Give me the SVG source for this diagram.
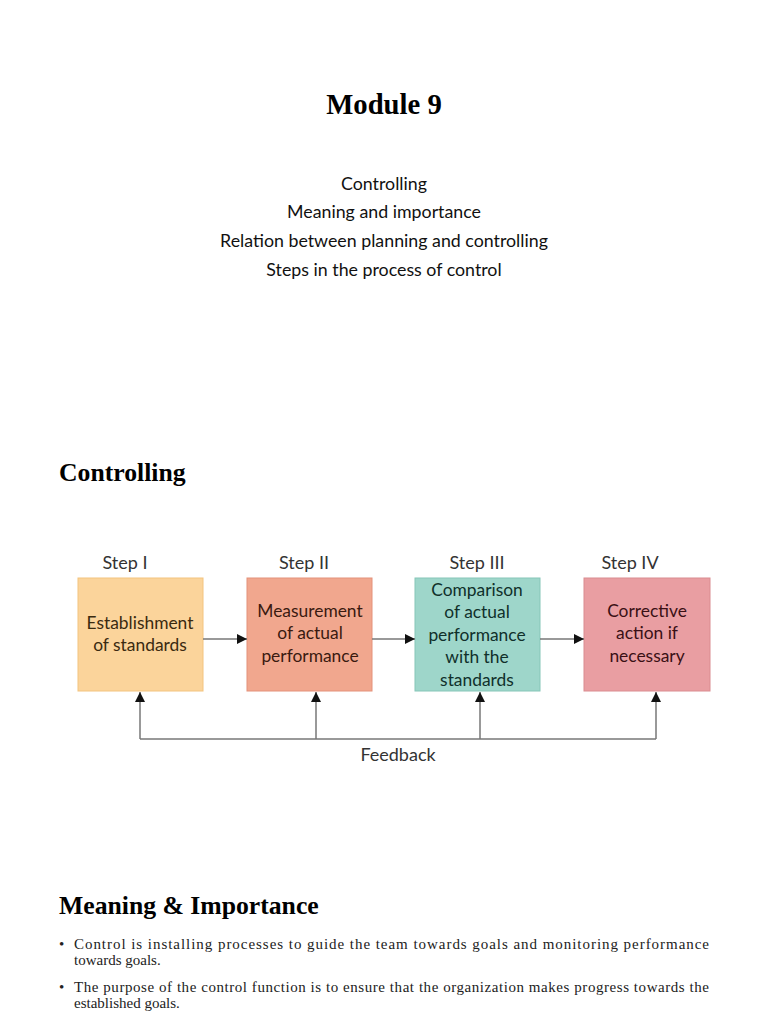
<svg xmlns="http://www.w3.org/2000/svg" width="768" height="1024" viewBox="0 0 768 1024">
<defs>
<style>
.h{font-family:"Liberation Serif","Times New Roman",serif;font-weight:bold;fill:#000}
.s{font-family:Lato,"Open Sans",sans-serif;font-size:17.8px;fill:#111;text-anchor:middle}
.step{font-family:Lato,"Open Sans",sans-serif;font-size:18px;fill:#333;text-anchor:middle}
.bt{font-family:Lato,"Open Sans",sans-serif;font-size:17.4px;text-anchor:middle}
.p{font-family:"Liberation Serif","Times New Roman",serif;font-size:15px;fill:#222}
.ln{stroke:#777;stroke-width:1.5;fill:none}
</style>
<marker id="ah" viewBox="0 0 10 10" refX="10" refY="5" markerWidth="10" markerHeight="10" orient="auto" markerUnits="userSpaceOnUse">
<path d="M0,0 L10,5 L0,10 z" fill="#111"/>
</marker>
</defs>
<rect width="768" height="1024" fill="#fff"/>
<text class="h" x="384" y="114" font-size="28.7" text-anchor="middle">Module 9</text>
<text class="s" x="384" y="190">Controlling</text>
<text class="s" x="384" y="218">Meaning and importance</text>
<text class="s" x="384" y="247">Relation between planning and controlling</text>
<text class="s" x="384" y="276">Steps in the process of control</text>
<text class="h" x="59" y="481" font-size="25.7">Controlling</text>

<g id="step1">
<text class="step" x="125" y="569">Step I</text>
<rect x="78" y="578" width="125" height="113" fill="#FBD49B" stroke="#F3C47E" stroke-width="1"/>
<text class="bt" x="140" y="629" fill="#3a2a10">Establishment</text>
<text class="bt" x="140" y="651" fill="#3a2a10">of standards</text>
</g>
<g id="step2">
<text class="step" x="304" y="569">Step II</text>
<rect x="247" y="578" width="125" height="113" fill="#F1A78E" stroke="#E4917A" stroke-width="1"/>
<text class="bt" x="310" y="617" fill="#3a1a10">Measurement</text>
<text class="bt" x="310" y="639" fill="#3a1a10">of actual</text>
<text class="bt" x="310" y="662" fill="#3a1a10">performance</text>
</g>
<g id="step3">
<text class="step" x="477" y="569">Step III</text>
<rect x="415" y="578" width="125" height="113" fill="#9ED6CA" stroke="#86C6B8" stroke-width="1"/>
<text class="bt" x="477" y="596" fill="#10302a">Comparison</text>
<text class="bt" x="477" y="618" fill="#10302a">of actual</text>
<text class="bt" x="477" y="641" fill="#10302a">performance</text>
<text class="bt" x="477" y="663" fill="#10302a">with the</text>
<text class="bt" x="477" y="686" fill="#10302a">standards</text>
</g>
<g id="step4">
<text class="step" x="630" y="569">Step IV</text>
<rect x="584" y="578" width="126" height="113" fill="#E99EA2" stroke="#DA8C90" stroke-width="1"/>
<text class="bt" x="647" y="617" fill="#3a1015">Corrective</text>
<text class="bt" x="647" y="639" fill="#3a1015">action if</text>
<text class="bt" x="647" y="662" fill="#3a1015">necessary</text>
</g>

<g id="connectors">
<line class="ln" x1="203" y1="639" x2="247" y2="639" marker-end="url(#ah)"/>
<line class="ln" x1="372" y1="639" x2="415" y2="639" marker-end="url(#ah)"/>
<line class="ln" x1="540" y1="639" x2="584" y2="639" marker-end="url(#ah)"/>
<path class="ln" d="M140,739 L656,739"/>
<line class="ln" x1="140" y1="739" x2="140" y2="692" marker-end="url(#ah)"/>
<line class="ln" x1="316" y1="739" x2="316" y2="692" marker-end="url(#ah)"/>
<line class="ln" x1="480" y1="739" x2="480" y2="692" marker-end="url(#ah)"/>
<line class="ln" x1="656" y1="739" x2="656" y2="692" marker-end="url(#ah)"/>
<text class="step" x="398" y="761">Feedback</text>
</g>

<text class="h" x="59" y="914" font-size="25.7">Meaning &amp; Importance</text>
<text class="p" x="59" y="949">•</text>
<text class="p" x="74" y="949" textLength="635" lengthAdjust="spacing">Control is installing processes to guide the team towards goals and monitoring performance</text>
<text class="p" x="74" y="965">towards goals.</text>
<text class="p" x="59" y="992">•</text>
<text class="p" x="74" y="992" textLength="635" lengthAdjust="spacing">The purpose of the control function is to ensure that the organization makes progress towards the</text>
<text class="p" x="74" y="1008">established goals.</text>
</svg>
